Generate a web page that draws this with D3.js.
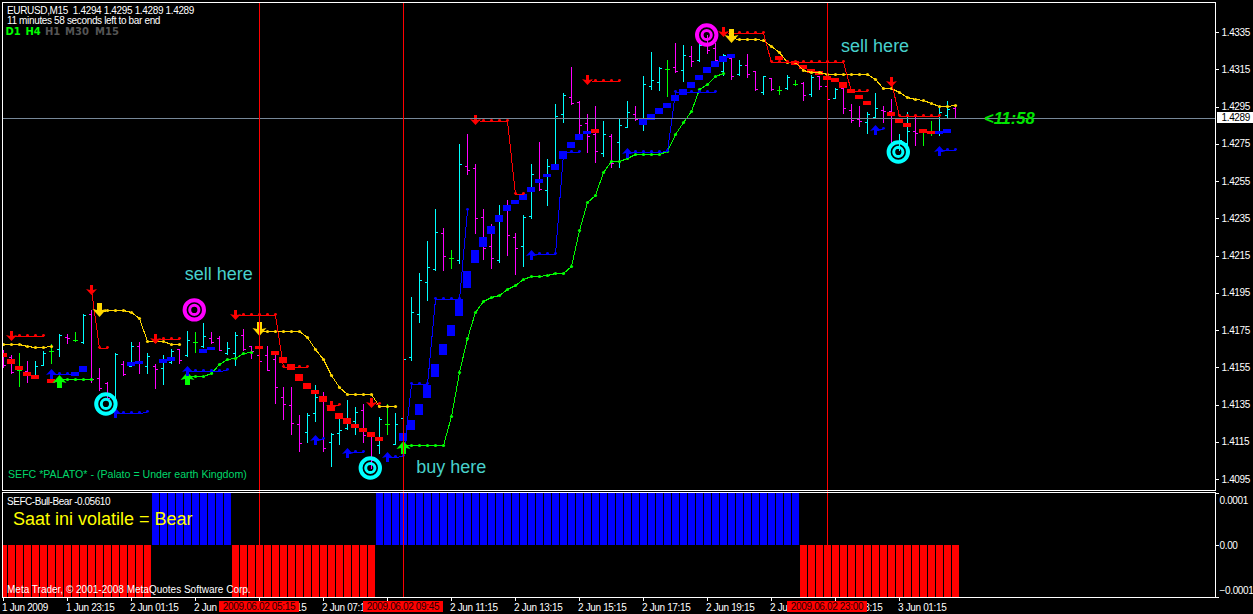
<!DOCTYPE html>
<html><head><meta charset="utf-8">
<script src="https://cdn.jsdelivr.net/npm/d3@7"></script>
<style>
html,body{margin:0;padding:0;background:#000;overflow:hidden}
svg{display:block}
text{font-family:"Liberation Sans",Arial,sans-serif;font-size:10px;letter-spacing:-0.35px;fill:#fff;white-space:pre}
.crisp{shape-rendering:crispEdges}
</style></head><body><svg id="c" width="1253" height="614"></svg>
<script>
const opens=[1.41633,1.41606,1.41536,1.41531,1.41509,1.41563,1.41638,1.41648,1.41713,1.41697,
1.41686,1.41836,1.41493,1.41466,1.41391,1.41568,1.41558,1.41664,1.41558,1.41558,
1.41547,1.41579,1.41648,1.41617,1.41686,1.41664,1.41707,1.41707,1.41627,1.41627,
1.41723,1.41664,1.41617,1.41617,1.41595,1.41391,1.41348,1.41245,1.41203,1.41305,
1.41397,1.41149,1.41197,1.41224,1.41262,1.41321,1.41181,1.41133,1.41245,1.41138,
1.41278,1.41606,1.41836,1.42008,1.42078,1.42271,1.42137,1.42126,1.42631,1.42620,
1.42357,1.42201,1.42126,1.42421,1.42250,1.42201,1.42362,1.42556,1.42502,1.42641,
1.42910,1.43001,1.42974,1.42862,1.42803,1.42701,1.42792,1.42760,1.42840,1.42910,
1.42856,1.43060,1.43082,1.43152,1.43162,1.43146,1.43221,1.43200,1.43280,1.43264,
1.43141,1.43211,1.43125,1.43173,1.43141,1.43028,1.43103,1.43039,1.43050,1.43071,
1.43076,1.43017,1.43114,1.43060,1.42996,1.43050,1.42931,1.42883,1.42867,1.42894,
1.42931,1.42926,1.42727,1.42754,1.42819,1.42813,1.42819,1.42808,1.42905,1.42942];
const highs=[1.41643,1.41617,1.41627,1.41584,1.41584,1.41638,1.41675,1.41729,1.41729,1.41740,
1.41836,1.41858,1.41547,1.41472,1.41627,1.41584,1.41686,1.41686,1.41627,1.41568,
1.41617,1.41648,1.41648,1.41745,1.41740,1.41788,1.41740,1.41718,1.41686,1.41740,
1.41756,1.41664,1.41670,1.41664,1.41617,1.41445,1.41445,1.41294,1.41305,1.41456,
1.41418,1.41197,1.41278,1.41375,1.41337,1.41353,1.41186,1.41283,1.41353,1.41305,
1.41601,1.41927,1.42056,1.42228,1.42400,1.42298,1.42180,1.42749,1.42803,1.42641,
1.42400,1.42319,1.42421,1.42448,1.42271,1.42368,1.42641,1.42760,1.42668,1.42964,
1.43023,1.43162,1.42980,1.42910,1.42953,1.42872,1.42803,1.42883,1.42980,1.42953,
1.43114,1.43243,1.43162,1.43200,1.43291,1.43280,1.43275,1.43286,1.43334,1.43291,
1.43232,1.43216,1.43200,1.43232,1.43141,1.43114,1.43103,1.43060,1.43119,1.43092,
1.43082,1.43119,1.43114,1.43060,1.43050,1.43050,1.42964,1.42953,1.42921,1.43023,
1.42953,1.42990,1.42803,1.42921,1.42905,1.42824,1.42872,1.42942,1.42980,1.42958];
const lows=[1.41552,1.41520,1.41450,1.41472,1.41509,1.41563,1.41574,1.41611,1.41680,1.41691,
1.41680,1.41472,1.41429,1.41375,1.41305,1.41509,1.41558,1.41520,1.41520,1.41440,
1.41461,1.41574,1.41574,1.41611,1.41633,1.41659,1.41680,1.41643,1.41622,1.41563,
1.41643,1.41601,1.41584,1.41536,1.41358,1.41272,1.41192,1.41100,1.41149,1.41262,
1.41100,1.41020,1.41138,1.41219,1.41192,1.41149,1.41009,1.41090,1.41192,1.41138,
1.41079,1.41590,1.41793,1.41911,1.42072,1.42072,1.42083,1.42110,1.42588,1.42271,
1.42131,1.42083,1.42115,1.42153,1.42051,1.42094,1.42352,1.42502,1.42421,1.42641,
1.42867,1.42964,1.42808,1.42706,1.42652,1.42684,1.42625,1.42625,1.42840,1.42878,
1.42824,1.43044,1.43039,1.43007,1.43135,1.43087,1.43168,1.43195,1.43237,1.43195,
1.43119,1.43098,1.43119,1.43109,1.43039,1.43017,1.43039,1.43017,1.43044,1.43066,
1.42985,1.43007,1.43044,1.42985,1.42996,1.42915,1.42867,1.42846,1.42808,1.42888,
1.42867,1.42733,1.42717,1.42743,1.42743,1.42743,1.42797,1.42797,1.42894,1.42888];
const closes=[1.41563,1.41525,1.41536,1.41515,1.41558,1.41627,1.41638,1.41723,1.41707,1.41697,
1.41831,1.41488,1.41440,1.41386,1.41622,1.41515,1.41664,1.41579,1.41611,1.41542,
1.41595,1.41638,1.41590,1.41697,1.41686,1.41718,1.41686,1.41643,1.41654,1.41723,
1.41648,1.41638,1.41584,1.41536,1.41445,1.41353,1.41251,1.41143,1.41294,1.41391,
1.41117,1.41192,1.41213,1.41278,1.41310,1.41186,1.41052,1.41272,1.41245,1.41245,
1.41595,1.41847,1.42019,1.42088,1.42276,1.42148,1.42137,1.42641,1.42609,1.42352,
1.42190,1.42137,1.42362,1.42260,1.42190,1.42357,1.42588,1.42507,1.42631,1.42899,
1.43012,1.42969,1.42851,1.42792,1.42711,1.42803,1.42647,1.42851,1.42921,1.42883,
1.43071,1.43092,1.43157,1.43152,1.43141,1.43227,1.43195,1.43280,1.43254,1.43200,
1.43227,1.43114,1.43173,1.43125,1.43044,1.43114,1.43044,1.43039,1.43109,1.43071,
1.43012,1.43109,1.43060,1.42990,1.43044,1.42942,1.42878,1.42872,1.42910,1.42942,
1.42926,1.42754,1.42770,1.42819,1.42808,1.42813,1.42819,1.42921,1.42937,1.42888];

const bodyBars=[0,1,2,3,4,6,9,10,16,17,20,21,25,26,32,34,35,36,37,38,39,40,41,42,43,44,45,46,47,
50,51,52,53,54,55,56,57,58,59,60,61,62,63,64,65,66,67,68,69,70,71,72,73,74,
80,81,82,83,84,85,86,87,88,89,90,91,97,99,100,101,102,103,104,105,106,107,108,111,112,113,115,116,117,118];
const bodyOpen=[1.41627,1.41595,1.41558,1.41525,1.41509,1.41488,1.41509,1.41531,1.41563,1.41574,1.41579,1.41590,1.41633,1.41648,1.41664,1.41638,1.41606,1.41568,1.41515,1.41466,1.41429,1.41397,1.41348,1.41305,1.41278,1.41245,1.41224,1.41203,1.41176,
1.41160,1.41219,1.41299,1.41391,1.41504,1.41622,1.41723,1.41831,1.41981,1.42115,1.42201,1.42271,1.42335,1.42395,1.42432,1.42454,1.42497,1.42545,1.42577,1.42615,1.42674,1.42733,1.42776,1.42808,1.42829,
1.42856,1.42883,1.42915,1.42948,1.42985,1.43017,1.43055,1.43098,1.43135,1.43168,1.43195,1.43216,1.43221,1.43195,1.43173,1.43152,1.43141,1.43114,1.43103,1.43082,1.43044,1.43012,1.42980,1.42921,1.42888,1.42862,1.42829,1.42819,1.42808,1.42813];
const bodyClose=[1.41611,1.41574,1.41542,1.41509,1.41493,1.41472,1.41525,1.41558,1.41579,1.41584,1.41595,1.41606,1.41648,1.41659,1.41654,1.41622,1.41579,1.41542,1.41482,1.41440,1.41413,1.41369,1.41321,1.41278,1.41251,1.41229,1.41208,1.41181,1.41160,
1.41197,1.41267,1.41353,1.41456,1.41568,1.41675,1.41777,1.41917,1.42067,1.42180,1.42250,1.42309,1.42368,1.42421,1.42448,1.42480,1.42518,1.42561,1.42588,1.42641,1.42711,1.42760,1.42803,1.42819,1.42813,
1.42883,1.42910,1.42942,1.42969,1.43012,1.43044,1.43082,1.43119,1.43162,1.43195,1.43221,1.43232,1.43205,1.43178,1.43157,1.43135,1.43125,1.43098,1.43087,1.43055,1.43028,1.42996,1.42964,1.42905,1.42867,1.42846,1.42813,1.42808,1.42819,1.42829];

const yellowStarts=[0,12,32,91];
const yellowLines=[
[1.41675,1.41675,1.41675,1.41664,1.41659,1.41659,1.41664],
[1.41847,1.41858,1.41858,1.41858,1.41847,1.41815,1.41691,1.41691,1.41691,1.41675,1.41675],
[1.41745,1.41745,1.41745,1.41745,1.41745,1.41745,1.41713,1.41648,1.41595,1.41509,1.41445,1.41407,1.41407,1.41407,1.41407,1.41342,1.41342,1.41342],
[1.43318,1.43313,1.43313,1.43313,1.43307,1.43275,1.43243,1.43189,1.43189,1.43146,1.43135,1.43135,1.43125,1.43125,1.43125,1.43125,1.43125,1.43125,1.43098,1.43050,1.43050,1.43028,1.43001,1.42990,1.42985,1.42969,1.42953,1.42953,1.42958]];
const greenStarts=[7,23,50];
const greenLines=[
[1.41488,1.41488,1.41488,1.41488,1.41488],
[1.41504,1.41504,1.41504,1.41520,1.41568,1.41595,1.41601,1.41627,1.41633],
[1.41133,1.41133,1.41133,1.41133,1.41133,1.41133,1.41288,1.41525,1.41707,1.41847,1.41906,1.41927,1.41938,1.41970,1.41992,1.42024,1.42040,1.42040,1.42046,1.42056,1.42056,1.42094,1.42287,1.42437,1.42475,1.42599,1.42658,1.42658,1.42674,1.42695,1.42695,1.42695,1.42695,1.42711,1.42803,1.42867,1.42926,1.43044,1.43071,1.43114,1.43130]];
const redStarts=[1,11,19,29,41,46,59,73,90,111];
const redLines=[
[1.41718,1.41718,1.41718,1.41718,1.41718],
[1.41965,1.41654,1.41654],
[1.41702,1.41702,1.41702,1.41702],
[1.41831,1.41831,1.41831,1.41831,1.41831,1.41831,1.41552,1.41552,1.41552,1.41552],
[1.41342,1.41348],
[1.41358,1.41353],
[1.42878,1.42872,1.42872,1.42872,1.42872,1.42480,1.42480],
[1.43092,1.43087,1.43087,1.43087,1.43087],
[1.43350,1.43345,1.43345,1.43345,1.43345,1.43345,1.43189,1.43189,1.43189,1.43189,1.43189,1.43189,1.43189,1.43189,1.43189,1.43189,1.43033,1.43033,1.43033],
[1.43082,1.42899,1.42899,1.42899,1.42899,1.42899,1.42899]];
const blueStarts=[6,14,23,39,43,48,66,78,109,117];
const blueLines=[
[1.41515,1.41515,1.41515,1.41515],
[1.41305,1.41305,1.41305,1.41305,1.41310],
[1.41531,1.41531,1.41531,1.41531,1.41531,1.41536],
[1.41160,1.41165],
[1.41090,1.41095,1.41095],
[1.41068,1.41068,1.41074,1.41461,1.41461,1.41461,1.41917,1.41917,1.41917,1.41917,1.42395],
[1.42153,1.42158,1.42158,1.42158,1.42701,1.42706,1.42706],
[1.42701,1.42706,1.42706,1.42706,1.42706,1.42711,1.43028,1.43028,1.43028,1.43028,1.43028,1.43028],
[1.42824,1.42829],
[1.42711,1.42717,1.42717]];

const histValues=[-1,-1,-1,-1,-1,-1,-1,-1,-1,-1,-1,-1,-1,-1,-1,-1,-1,-1,-1,
1,1,1,1,1,1,1,1,1,1,
-1,-1,-1,-1,-1,-1,-1,-1,-1,-1,-1,-1,-1,-1,-1,-1,-1,-1,
1,1,1,1,1,1,1,1,1,1,1,1,1,1,1,1,1,1,1,1,1,1,1,1,1,1,1,1,1,1,1,1,1,1,1,1,1,1,1,1,1,1,1,1,1,1,1,1,1,1,1,1,1,
-1,-1,-1,-1,-1,-1,-1,-1,-1,-1,-1,-1,-1,-1,-1,-1,-1,-1,-1,-1].map(v=>v*0.0001);

const priceTicks=[1.4335,1.4315,1.4295,1.4275,1.4255,1.4235,1.4215,1.4195,1.4175,1.4155,1.4135,1.4115,1.4095];
const histTicks=[0.0001,0,-0.0001];
const timeTickBars=[0,8,16,24,32,40,48,56,64,72,80,88,96,104,112];
const timeTickLabels=["1 Jun 2009","1 Jun 23:15","2 Jun 01:15","2 Jun 03:15","2 Jun 05:15","2 Jun 07:15","2 Jun 09:15","2 Jun 11:15","2 Jun 13:15","2 Jun 15:15","2 Jun 17:15","2 Jun 19:15","2 Jun 21:15","2 Jun 23:15","3 Jun 01:15"];
const vlineBars=[32,50,103];
const vlineLabels=["2009.06.02 05:15","2009.06.02 09:45","2009.06.02 23:00"];
const lastPrice=1.4289;
const targetBars=[23.85,12.8,45.85,87.9,111.85];
const targetPrices=[1.41858,1.41353,1.41009,1.43334,1.42706];
const targetColors=["#ff00ff","#00ffff","#00ffff","#ff00ff","#00ffff"];
const notes=[["sell here",22.65,1.42019],["buy here",51.6,1.40982],["sell here",104.7,1.43243]];

const svg=d3.select("#c");
const BW=960,L=2.5,R=1215.5,T=2.5,B=490.5,T2=492.5,B2=597.5;
const x=d3.scaleBand().domain(d3.range(histValues.length)).range([0,BW]);
const cx=i=>x.step()*i+3.5;
const y=d3.scaleLinear().domain([1.4095,1.4335]).range([479,32]);
const yh=d3.scaleLinear().domain([-0.0001,0.0001]).range([597,493]);
const CY="#00ffff",MG="#ff00ff",GR="#00ff00",RD="#ff0000",BL="#0000ff",YL="#ffd700";

svg.append("rect").attr("width",1253).attr("height",614).attr("fill","#000");
const defs=svg.append("defs");
defs.append("clipPath").attr("id","m").append("rect").attr("x",L).attr("y",T).attr("width",R-L).attr("height",B-T);
defs.append("clipPath").attr("id","h").append("rect").attr("x",L).attr("y",T2).attr("width",R-L).attr("height",B2-T2);

const main=svg.append("g").attr("clip-path","url(#m)");
const bars=main.append("g").attr("class","crisp");
d3.range(opens.length).forEach(i=>{
  const col=closes[i]>opens[i]?CY:closes[i]<opens[i]?MG:GR;
  const px=Math.round(cx(i)-0.5);
  const yH=Math.round(y(highs[i])),yL=Math.round(y(lows[i]));
  bars.append("rect").attr("x",px).attr("y",yH).attr("width",1).attr("height",yL-yH+1).attr("fill",col);
  bars.append("rect").attr("x",px-2).attr("y",Math.round(y(opens[i]))).attr("width",2).attr("height",1).attr("fill",col);
  bars.append("rect").attr("x",px+1).attr("y",Math.round(y(closes[i]))).attr("width",2).attr("height",1).attr("fill",col);
});
main.append("g").attr("class","crisp").selectAll("rect").data(bodyBars).join("rect")
 .attr("x",d=>cx(d)-4.5).attr("width",8)
 .attr("y",(d,k)=>Math.round(Math.min(y(bodyOpen[k]),y(bodyClose[k]))))
 .attr("height",(d,k)=>Math.max(2,Math.round(Math.abs(y(bodyOpen[k])-y(bodyClose[k])))+1))
 .attr("fill",(d,k)=>bodyClose[k]>bodyOpen[k]?BL:RD);

function series(starts,lines,color,dotUp,r){
  const g=main.append("g");
  const ln=d3.line().x(d=>cx(d[0])).y(d=>Math.round(y(d[1]))+0.5);
  lines.forEach((vals,k)=>{
    const pts=vals.map((v,j)=>[starts[k]+j,v]);
    g.append("path").attr("class","crisp").attr("d",ln(pts)).attr("fill","none").attr("stroke",color).attr("stroke-width",1);
    g.selectAll(null).data(pts).join("circle").attr("cx",d=>cx(d[0])).attr("cy",d=>Math.round(y(d[1]))+0.5-dotUp).attr("r",r).attr("fill",color);
  });
}
series(yellowStarts,yellowLines,YL,0,1.6);
series(greenStarts,greenLines,GR,0,1.6);
series(redStarts,redLines,RD,1.2,1.4);
series(blueStarts,blueLines,BL,1.2,1.4);

function arrows(starts,lines,color,dir,top,bot,headW,stem,headH){
  const g=main.append("g");
  starts.forEach((s,k)=>{
    const px=cx(s),py=Math.round(y(lines[k][0]));
    const a=py-top,b=py+bot;
    let d;
    if(dir>0){
      d=`M${px},${a}L${px+headW/2},${a+headH}L${px+stem/2},${a+headH-1}L${px+stem/2},${b}L${px-stem/2},${b}L${px-stem/2},${a+headH-1}L${px-headW/2},${a+headH}Z`;
    } else {
      d=`M${px},${b}L${px+headW/2},${b-headH}L${px+stem/2},${b-headH+1}L${px+stem/2},${a}L${px-stem/2},${a}L${px-stem/2},${b-headH+1}L${px-headW/2},${b-headH}Z`;
    }
    g.append("path").attr("d",d).attr("fill",color);
  });
}
arrows(yellowStarts.slice(1),yellowLines.slice(1),YL,-1,9,5,14,5,8);
arrows(greenStarts,greenLines,GR,1,4,9,14,5,8);
arrows(redStarts,redLines,RD,-1,5,5,11,3,6);
arrows(blueStarts,blueLines,BL,1,5,5,11,3,6);

svg.append("line").attr("class","crisp").attr("x1",L).attr("x2",R).attr("y1",Math.round(y(lastPrice))+0.5).attr("y2",Math.round(y(lastPrice))+0.5).attr("stroke","#778899");

const tg=main.append("g");
targetBars.forEach((b,k)=>{
  const g=tg.append("g").attr("transform",`translate(${cx(b)},${y(targetPrices[k])})`);
  g.append("circle").attr("r",9.7).attr("fill","none").attr("stroke",targetColors[k]).attr("stroke-width",4);
  g.append("circle").attr("r",4.6).attr("fill","none").attr("stroke",targetColors[k]).attr("stroke-width",3);
});

const hist=svg.append("g").attr("clip-path","url(#h)").attr("class","crisp");
hist.selectAll("rect").data(histValues).join("rect")
 .attr("x",(d,i)=>x(i)).attr("width",7)
 .attr("y",d=>d>0?yh(d):yh(0)).attr("height",d=>Math.abs(yh(d)-yh(0)))
 .attr("fill",d=>d>0?BL:RD);

svg.append("g").attr("class","crisp").selectAll("line").data(vlineBars).join("line")
 .attr("x1",d=>cx(d)).attr("x2",d=>cx(d)).attr("y1",T).attr("y2",B2).attr("stroke",RD);

const fr=svg.append("g").attr("class","crisp").attr("fill","none").attr("stroke","#fff");
fr.append("rect").attr("x",L).attr("y",T).attr("width",R-L).attr("height",B-T);
fr.append("rect").attr("x",L).attr("y",T2).attr("width",R-L).attr("height",B2-T2);

const ax=svg.append("g").attr("transform",`translate(${R},0)`).attr("class","ax")
 .call(d3.axisRight(y).tickValues(priceTicks).tickFormat(d3.format(".4f")).tickSize(3).tickPadding(3));
const ax2=svg.append("g").attr("transform",`translate(${R},0)`).attr("class","ax")
 .call(d3.axisRight(yh).tickValues(histTicks).tickFormat(d=>d===0?"0.00":d3.format(".4f")(d)).tickSize(3).tickPadding(1));
ax2.selectAll("text").attr("dy",d=>d>0?"1em":d<0?"-0.4em":"0.32em");
const axb=svg.append("g").attr("transform",`translate(0,${B2})`).attr("class","ax")
 .call(d3.axisBottom(x).tickValues(timeTickBars).tickFormat((d,i)=>timeTickLabels[i]).tickSize(3).tickPadding(3));
axb.selectAll(".tick").attr("transform",d=>`translate(${cx(d)-0.5},0)`);
axb.selectAll("text").attr("text-anchor","start").attr("x",-1);
svg.selectAll(".ax path.domain").attr("stroke","none");
svg.selectAll(".ax line").attr("stroke","#fff").attr("class","crisp");
svg.selectAll(".ax text").attr("fill","#fff");

svg.append("rect").attr("class","crisp").attr("x",1217).attr("y",112).attr("width",36).attr("height",11).attr("fill","#fff");
svg.append("text").attr("x",1221.5).attr("y",121).style("fill","#000").text(d3.format(".4f")(lastPrice));

vlineBars.forEach((b,k)=>{
  svg.append("rect").attr("class","crisp").attr("x",cx(b)-40.5).attr("y",601).attr("width",80).attr("height",11).attr("fill",RD);
  svg.append("text").attr("x",cx(b)-0.5).attr("y",610).attr("text-anchor","middle").style("fill","#200").text(vlineLabels[k]);
});

svg.append("text").attr("x",7).attr("y",14).text("EURUSD,M15  1.4294 1.4295 1.4289 1.4289");
svg.append("text").attr("x",7).attr("y",24).text("11 minutes 58 seconds left to bar end");
const tf=[["D1",5.5,"#00ff00"],["H4",25.5,"#00ff00"],["H1",45,"#555"],["M30",65,"#555"],["M15",95,"#555"]];
tf.forEach(t=>svg.append("text").attr("x",t[1]).attr("y",34.5).style("font-weight","bold").style("font-family","DejaVu Sans").style("font-size","10px").style("letter-spacing","0").style("fill",t[2]).text(t[0]));
svg.append("text").attr("x",8).attr("y",478).style("font-size","10.6px").style("letter-spacing","0").style("fill","#00d86a").text("SEFC *PALATO* - (Palato = Under earth Kingdom)");
svg.append("text").attr("x",7).attr("y",505).style("letter-spacing","-0.45px").text("SEFC-Bull-Bear -0.05610");
svg.append("text").attr("x",13).attr("y",525).style("font-size","18px").style("letter-spacing","0").style("fill","#ffff00").text("Saat ini volatile = Bear");
svg.append("text").attr("x",7).attr("y",593).style("letter-spacing","0").text("Meta Trader, © 2001-2008 MetaQuotes Software Corp.");
notes.forEach(n=>svg.append("text").attr("x",cx(n[1])).attr("y",y(n[2])).style("font-size","18px").style("letter-spacing","0").style("fill","#48d1cc").text(n[0]));
svg.append("text").attr("x",984).attr("y",123.5).style("font-size","16.5px").style("letter-spacing","0").style("font-weight","bold").style("font-style","italic").style("fill","#00e600").text("<11:58");
</script></body></html>
